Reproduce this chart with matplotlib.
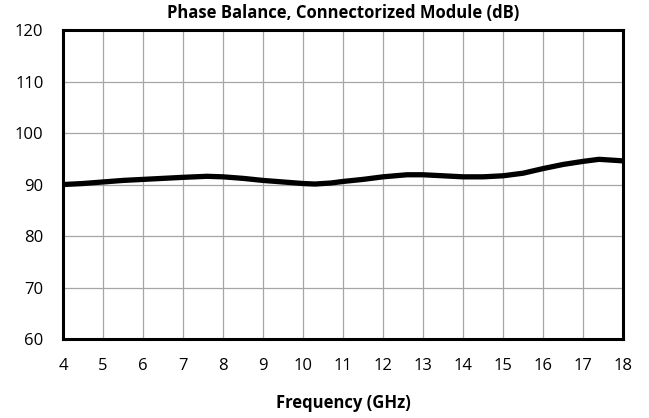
import matplotlib
matplotlib.use("Agg")
import matplotlib.pyplot as plt

# values
freq_ghz = [4.0, 4.5, 5.0, 5.5, 6.0, 6.5, 7.0, 7.6, 8.0, 8.5, 9.0, 9.5, 10.0, 10.3,
            10.7, 11.0, 11.5, 12.0, 12.6, 13.0, 13.5, 14.0, 14.5, 15.0, 15.5, 16.0,
            16.5, 17.0, 17.4, 18.0]
phase_balance = [90.0, 90.2, 90.5, 90.8, 91.0, 91.2, 91.4, 91.6, 91.5, 91.2, 90.8, 90.5,
                 90.2, 90.1, 90.3, 90.6, 91.0, 91.5, 91.9, 91.9, 91.7, 91.5, 91.5, 91.7,
                 92.2, 93.1, 93.9, 94.5, 94.9, 94.6]

x_ticks = list(range(4, 19))
y_ticks = [60, 70, 80, 90, 100, 110, 120]

plt.rcParams["font.family"] = ["Open Sans", "DejaVu Sans"]

fig = plt.figure(figsize=(6.49, 4.18), dpi=100)
ax = fig.add_axes([0.097, 0.189, 0.863, 0.739])

ax.plot(freq_ghz, phase_balance, color="black", linewidth=3.8,
        solid_capstyle="butt", solid_joinstyle="round", zorder=3)

ax.set_xlim(4, 18)
ax.set_ylim(60, 120)
ax.set_xticks(x_ticks)
ax.set_yticks(y_ticks)
ax.tick_params(length=0, labelsize=12)
ax.tick_params(axis="x", pad=14)
ax.tick_params(axis="y", pad=14)
ax.grid(True, color="#a6a6a6", linewidth=0.9)
ax.set_axisbelow(True)
for s in ax.spines.values():
    s.set_linewidth(2.2)
    s.set_color("black")

ax.set_title("Phase Balance, Connectorized Module (dB)", fontsize=12, fontweight="bold", pad=9)
ax.set_xlabel("Frequency (GHz)", fontsize=12, fontweight="bold", labelpad=14)

fig.savefig("out.png", dpi=100)
